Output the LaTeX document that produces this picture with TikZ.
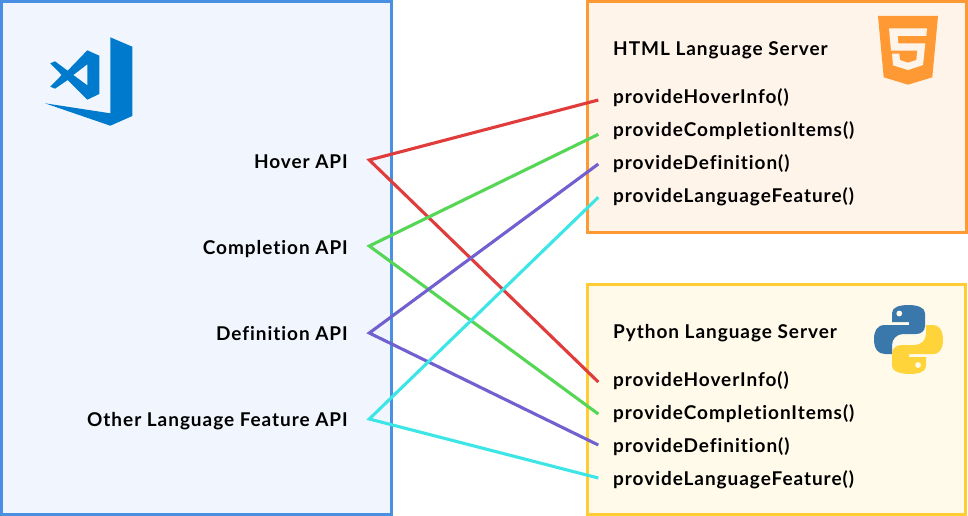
\documentclass[tikz,border=0pt]{standalone}
\usepackage{fontspec}
\setmainfont{Lato}[UprightFont=* Bold,BoldFont=* Black,LetterSpace=5,Ligatures=NoCommon]
\definecolor{vsblue}{HTML}{007ACC}
\definecolor{lblue}{HTML}{4A90E2}
\definecolor{lbluebg}{HTML}{F1F6FE}
\definecolor{orangeb}{HTML}{FF9933}
\definecolor{orangebg}{HTML}{FFF4EA}
\definecolor{yellowb}{HTML}{FFCC33}
\definecolor{yellowbg}{HTML}{FFFAEA}
\definecolor{lred}{HTML}{E03C3C}
\definecolor{lgreen}{HTML}{55D655}
\definecolor{lpurple}{HTML}{7060D0}
\definecolor{lcyan}{HTML}{3CE6E6}
\definecolor{pyblue}{HTML}{3A77AB}
\definecolor{pyyellow}{HTML}{FFD43B}
\tikzset{
  panel/.style={draw,line width=3pt},
  api/.style={anchor=base east,font=\fontsize{19}{20}\selectfont,text=black,inner sep=0pt},
  fn/.style={anchor=base west,font=\fontsize{19}{20}\selectfont,text=black,inner sep=0pt},
  link/.style={line width=3.1pt,line cap=butt,line join=miter}
}
\begin{document}
\begin{tikzpicture}[x=1pt,y=-1pt]
\useasboundingbox (0,0) rectangle (968,516);
\fill[white] (0,0) rectangle (968,516);
\draw[panel,draw=lblue,fill=lbluebg] (1.5,1.5) rectangle (391.2,514.5);
\draw[panel,draw=orangeb,fill=orangebg] (587.7,1.5) rectangle (966.5,232);
\draw[panel,draw=yellowb,fill=yellowbg] (587.7,284.5) rectangle (965.5,514.5);
% VS Code logo
\fill[vsblue] (110.3,37.3)--(132.3,46.7)--(132.3,116)--(110.3,125.7)--(45,103.3)--(110.3,113.3)--cycle;
\fill[vsblue,even odd rule] (87.3,50.3)--(99.3,55.7)--(99.3,94)--(87.3,99.7)--(67.7,80)--(55,88.7)--(50.3,86.7)--(61.7,75)--(50.3,63.3)--(55,61.3)--(67.7,70.7)--cycle
  (87.3,64.3)--(87.3,85.3)--(73.3,75)--cycle;
% HTML5 logo
\fill[orangeb] (878,16)--(938,16)--(932.3,77.3)--(908,84.7)--(883.7,77.3)--cycle;
\fill[orangebg] (889,28.3)--(927,28.3)--(926.3,36)--(897.7,36)--(898.3,43.3)--(925.3,43.3)--(923,65)--(908,70)--(893,65.3)--(892,53.7)--(899.3,53.7)--(900,60)--(908,62.7)--(916.3,60)--(917.3,50.7)--(891,50.7)--cycle;
% Python logo
\fill[pyblue] (908.5,305) .. controls (900,305) and (892,307) .. (892,313) -- (892,322) -- (909,322) -- (909,325) -- (885,325)
  .. controls (877,325) and (874,331) .. (874,339) .. controls (874,349) and (878,354) .. (885,354) -- (892,354) -- (892,345)
  .. controls (892,339) and (897,334) .. (903,334) -- (916,334) .. controls (921,334) and (925,331) .. (925,326) -- (925,313)
  .. controls (925,308) and (918,305) .. (908.5,305) -- cycle;
\fill[yellowbg] (899.3,313.5) circle (2.9);
\fill[pyyellow] (909.5,374) .. controls (918,374) and (926,372) .. (926,366) -- (926,357) -- (909,357) -- (909,354) -- (933,354)
  .. controls (940,354) and (943,348) .. (943,340) .. controls (943,330) and (939,325) .. (933,325) -- (926,325) -- (926,334)
  .. controls (926,340) and (921,345) .. (915,345) -- (902,345) .. controls (897,345) and (892,348) .. (892,353) -- (892,366)
  .. controls (892,371) and (900,374) .. (909.5,374) -- cycle;
\fill[yellowbg] (918,365) circle (2.9);
% labels
\node[api] (hover) at (348,168) {Hover API};
\node[api] (compl) at (348,254) {Completion API};
\node[api] (defn) at (348,340) {Definition API};
\node[api] (other) at (348,426) {Other Language Feature API};
\node[fn] (htitle) at (613,55.5) {HTML Language Server};
\node[fn] (h1) at (613,103) {provideHoverInfo()};
\node[fn] (h2) at (613,136.5) {provideCompletionItems()};
\node[fn] (h3) at (613,169.5) {provideDefinition()};
\node[fn] (h4) at (613,202.5) {provideLanguageFeature()};
\node[fn] (ptitle) at (613,338.5) {Python Language Server};
\node[fn] (p1) at (613,386.5) {provideHoverInfo()};
\node[fn] (p2) at (613,419.5) {provideCompletionItems()};
\node[fn] (p3) at (613,452.5) {provideDefinition()};
\node[fn] (p4) at (613,485.5) {provideLanguageFeature()};
% connector ends
\coordinate (a1) at (369.3,160);
\coordinate (a2) at (369.3,246);
\coordinate (a3) at (369.3,333);
\coordinate (a4) at (369.3,419);
\coordinate (u1) at (598.3,100);
\coordinate (u2) at (598.3,134.3);
\coordinate (u3) at (598.3,164);
\coordinate (u4) at (598.3,197.3);
\coordinate (d1) at (598.3,382);
\coordinate (d2) at (598.3,414);
\coordinate (d3) at (598.3,445);
\coordinate (d4) at (598.3,478);
\draw[link,lred] (u1)--(a1)--(d1);
\draw[link,lgreen] (u2)--(a2)--(d2);
\draw[link,lpurple] (u3)--(a3)--(d3);
\draw[link,lcyan] (u4)--(a4)--(d4);
\end{tikzpicture}
\end{document}
